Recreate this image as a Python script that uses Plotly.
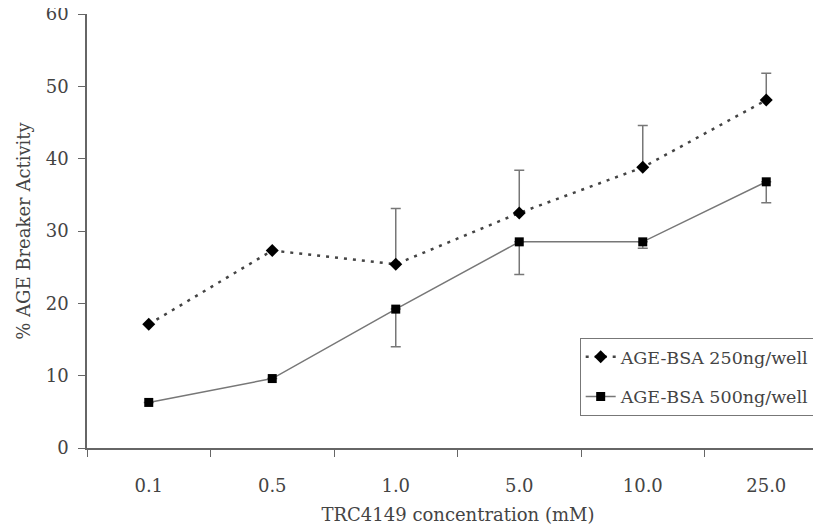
import plotly.graph_objects as go

categories = ["0.1", "0.5", "1.0", "5.0", "10.0", "25.0"]
bsa250 = [17.1, 27.3, 25.4, 32.5, 38.8, 48.1]
bsa250_err_up = [0, 0, 7.7, 5.9, 5.8, 3.7]
bsa500 = [6.3, 9.6, 19.2, 28.5, 28.5, 36.8]
bsa500_err_down = [0, 0, 5.2, 4.5, 0.9, 2.9]
zeros = [0, 0, 0, 0, 0, 0]
yticks = [0, 10, 20, 30, 40, 50, 60]

FONT = "DejaVu Serif"
TXT = "#444444"
FS = 18

fig = go.Figure()
fig.add_trace(go.Scatter(
    x=categories, y=bsa250, name="AGE-BSA 250ng/well", mode="lines+markers",
    line=dict(color="#444444", width=2.5, dash="3px,6px"),
    marker=dict(symbol="diamond", size=10, color="black"),
    error_y=dict(type="data", symmetric=False, array=bsa250_err_up, arrayminus=zeros,
                 color="#777777", thickness=1.5, width=5),
    legendgroup="a",
))
fig.add_trace(go.Scatter(
    x=categories, y=bsa500, name="AGE-BSA 500ng/well", mode="lines+markers",
    line=dict(color="#777777", width=1.5),
    marker=dict(symbol="square", size=9, color="black"),
    error_y=dict(type="data", symmetric=False, array=zeros, arrayminus=bsa500_err_down,
                 color="#777777", thickness=1.5, width=5),
    legendgroup="b",
))

fig.update_layout(
    width=821, height=526,
    margin=dict(l=79, r=0, t=6, b=86),
    plot_bgcolor="white", paper_bgcolor="white",
    font=dict(family=FONT, size=FS, color=TXT),
    showlegend=True,
    legend=dict(x=0.664, y=0.2535, xanchor="left", yanchor="top",
                bgcolor="white", bordercolor="#777777", borderwidth=1,
                font=dict(family=FONT, size=17.5, color=TXT),
                tracegroupgap=14, traceorder="grouped"),
    xaxis=dict(
        type="category", range=[-0.5, 5.508], automargin=False,
        showline=True, linecolor="#666666", linewidth=1.5,
        ticks="outside", ticklen=7, tickcolor="#666666", tickson="boundaries",
        showgrid=False, zeroline=False, ticklabelstandoff=21,
        tickfont=dict(family=FONT, size=FS, color=TXT),
        title=dict(text="TRC4149 concentration (mM)", standoff=13,
                   font=dict(family=FONT, size=FS, color=TXT)),
    ),
    yaxis=dict(
        range=[0, 60], tickvals=yticks, ticklabeloverflow="allow", automargin=False,
        showline=True, linecolor="#666666", linewidth=1.5,
        ticks="outside", ticklen=7, tickcolor="#666666",
        showgrid=False, zeroline=False, ticklabelstandoff=6,
        tickfont=dict(family=FONT, size=FS, color=TXT),
        title=dict(text="% AGE Breaker Activity", standoff=10,
                   font=dict(family=FONT, size=FS, color=TXT)),
    ),
)

fig.write_html("out.html")
